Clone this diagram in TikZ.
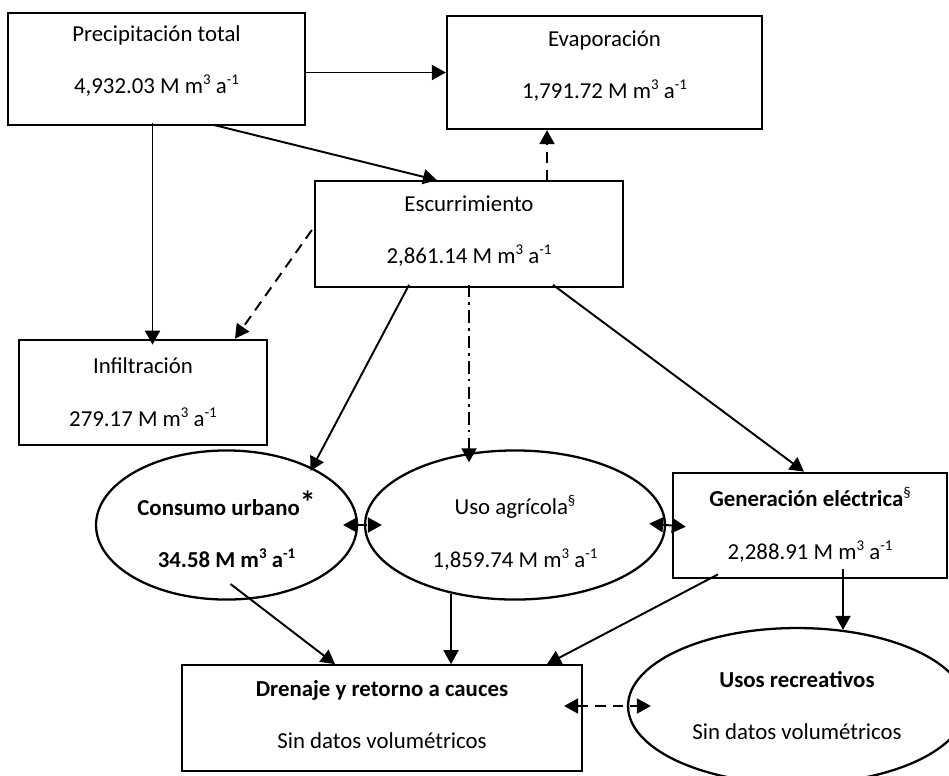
\documentclass[tikz,border=0pt]{standalone}
\usepackage{fontspec}
\setmainfont{Carlito}
\usetikzlibrary{shapes.geometric,arrows.meta,calc}
\tikzset{
  caja/.style={draw,line width=1.3pt,inner sep=0pt,font=\fontsize{13}{30}\selectfont},
  elipse/.style={caja,ellipse},
  flecha/.style={line width=1.1pt,-{Triangle[length=0.28cm,width=0.3cm]}},
  doble/.style={line width=1.1pt,{Triangle[length=0.28cm,width=0.3cm]}-{Triangle[length=0.28cm,width=0.3cm]},dash pattern=on 6pt off 4pt},
  trazos/.style={dash pattern=on 6pt off 4pt},
  trazopunto/.style={dash pattern=on 7pt off 3pt on 1.5pt off 3pt}
}
\newcommand{\sups}[1]{\raisebox{0.4em}{\fontsize{8.5}{8.5}\selectfont #1}}
\newcommand{\vol}{M m\sups{3} a\sups{-1}}
% two lines of text, moved up by #1
\newcommand{\dos}[3][0pt]{\raisebox{#1}[\height][\depth]{\begin{tabular}{@{}c@{}}#2\\#3\end{tabular}}}
\begin{document}
\begin{tikzpicture}[x=0.02cm,y=-0.02cm]
\useasboundingbox (0,0) rectangle (949,775);
\node[caja,minimum width=5.94cm,minimum height=2.24cm] (pt) at (156.5,69) {\dos[6.8pt]{Precipitación total}{4,932.03 \vol}};
\node[caja,minimum width=6.3cm,minimum height=2.26cm] (ev) at (604.5,72.5) {\dos[6pt]{Evaporación}{1,791.72 \vol}};
\node[caja,minimum width=6.16cm,minimum height=2.08cm] (es) at (469,234) {\dos[4pt]{Escurrimiento}{2,861.14 \vol}};
\node[caja,minimum width=4.96cm,minimum height=1.94cm] (in) at (143,392.5) {\dos[1.7pt]{Infiltración}{279.17 \vol}};
\node[elipse,minimum width=5.22cm,minimum height=2.64cm] (cu) at (226.5,525) {\dos[-3.4pt]{\textbf{Consumo urbano}\raisebox{1pt}{\fontsize{18}{18}\selectfont\bfseries*}}{\textbf{34.58 \vol}}};
\node[elipse,minimum width=6cm,minimum height=2.6cm] (ua) at (515,525) {\dos[-3.1pt]{Uso agrícola\sups{§}}{1,859.74 \vol}};
\node[caja,minimum width=5.48cm,minimum height=1.98cm] (ge) at (810,525.5) {\dos[1.7pt]{\textbf{Generación eléctrica}\sups{§}}{2,288.91 \vol}};
\node[caja,minimum width=8cm,minimum height=2.08cm] (dr) at (382,718) {\dos[3.4pt]{\textbf{Drenaje y retorno a cauces}}{Sin datos volumétricos}};
\node[elipse,minimum width=6.76cm,minimum height=3.12cm] (ur) at (797,706) {\dos[1.7pt]{\textbf{Usos recreativos}}{Sin datos volumétricos}};
\draw[flecha] (pt.east |- ev.west) -- (ev.west);
\draw[flecha] ($(pt.south)+(-4,-3)$) -- ($(pt.south |- in.north)+(-4,6)$);
\draw[flecha] ($(pt.south)+(58,-1)$) -- ($(es.north)+(-32,0)$);
\draw[flecha,trazos] ($(es.north)+(78,0)$) -- ($(es.north |- ev.south)+(78,0)$);
\draw[flecha,trazos] ($(es.west)+(-2,-4)$) -- ($(in.north)+(92,0)$);
\draw[flecha] ($(es.south)+(-60,-3)$) -- ($(cu.center)+(84,-54)$);
\draw[flecha,trazopunto] ($(es.south)+(0,-3)$) -- ($(es.south |- ua.north)+(0,13)$);
\draw[flecha] ($(es.south)+(84,-3)$) -- ($(ge.north)+(-6,0)$);
\draw[doble,shorten <=-0.3cm,shorten >=-0.36cm] (cu.east) -- (ua.west);
\draw[doble,shorten <=-0.34cm,shorten >=-0.28cm] (ua.east) -- (ge.west);
\draw[doble,shorten <=-0.38cm,shorten >=-0.48cm] (dr.east |- ur.west) -- (ur.west);
\draw[flecha] ($(cu.center)+(4,59)$) -- ($(dr.north)+(-47,0)$);
\draw[flecha] ($(ua.south)+(-64,-7)$) -- ($(dr.north)+(69,0)$);
\draw[flecha] ($(ge.south)+(-92,-5)$) -- ($(dr.north)+(165,0)$);
\draw[flecha] ($(ge.south)+(33,-10)$) -- ($(ur.north)+(46,3)$);
\end{tikzpicture}
\end{document}
